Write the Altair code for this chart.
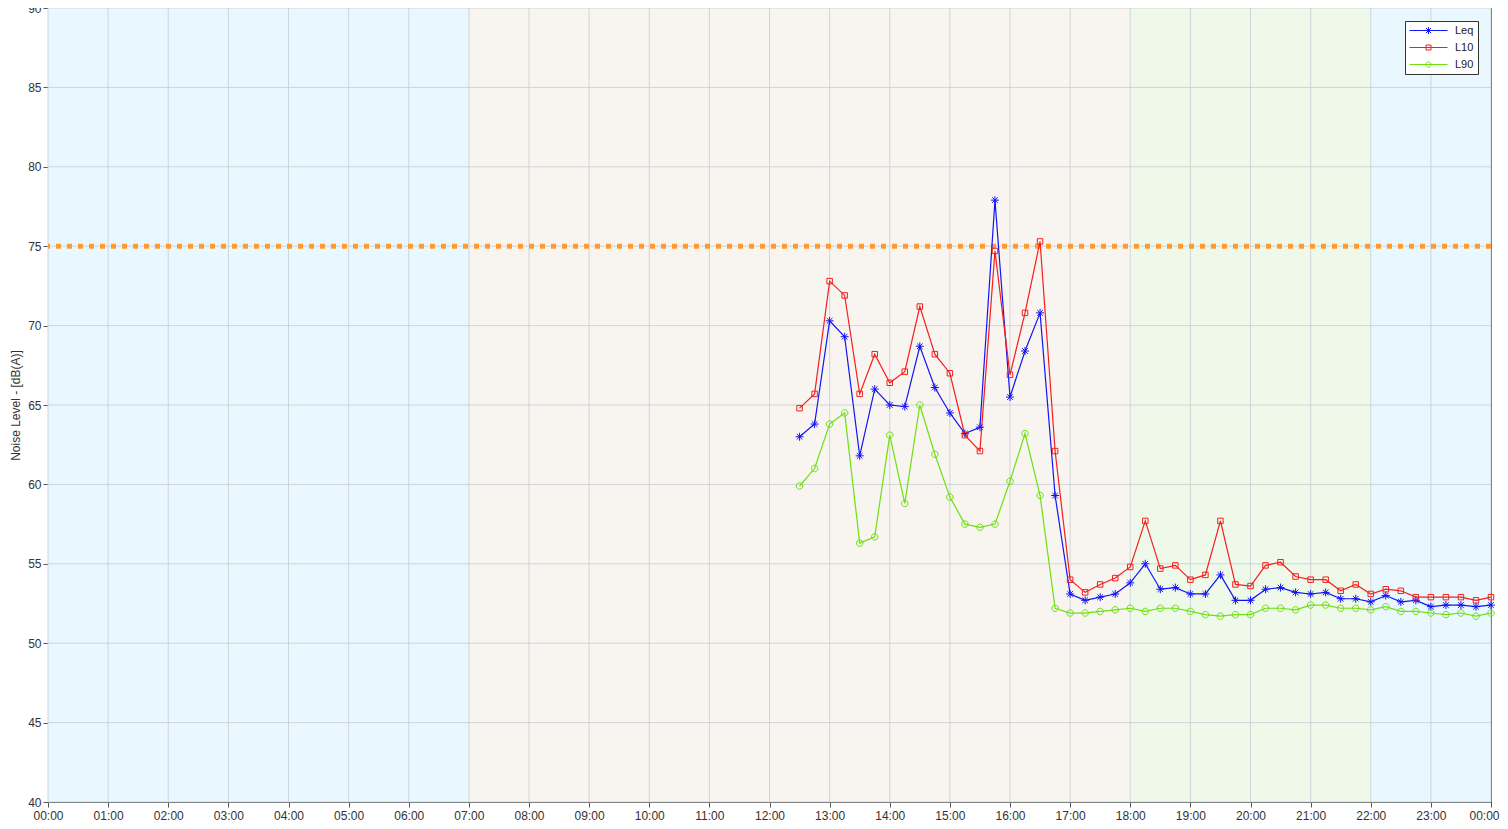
import altair as alt
import pandas as pd

times = ["12:30", "12:45", "13:00", "13:15", "13:30", "13:45", "14:00", "14:15", "14:30", "14:45",
         "15:00", "15:15", "15:30", "15:45", "16:00", "16:15", "16:30", "16:45", "17:00", "17:15",
         "17:30", "17:45", "18:00", "18:15", "18:30", "18:45", "19:00", "19:15", "19:30", "19:45",
         "20:00", "20:15", "20:30", "20:45", "21:00", "21:15", "21:30", "21:45", "22:00", "22:15",
         "22:30", "22:45", "23:00", "23:15", "23:30", "23:45", "24:00"]

leq = [63.0, 63.8, 70.3, 69.3, 61.8, 66.0, 65.0, 64.9, 68.7, 66.1, 64.5, 63.2, 63.6, 77.9, 65.5, 68.4, 70.8, 59.3,
       53.1, 52.7, 52.9, 53.1, 53.8, 55.0, 53.4, 53.5, 53.1, 53.1, 54.3, 52.7,
       52.7, 53.4, 53.5, 53.2, 53.1, 53.2, 52.8, 52.8, 52.6, 53.0, 52.6, 52.7, 52.3, 52.4, 52.4, 52.3, 52.4]
l10 = [64.8, 65.7, 72.8, 71.9, 65.7, 68.2, 66.4, 67.1, 71.2, 68.2, 67.0, 63.1, 62.1, 74.7, 66.9, 70.8, 75.3, 62.1,
       54.0, 53.2, 53.7, 54.1, 54.8, 57.7, 54.7, 54.9, 54.0, 54.3, 57.7, 53.7,
       53.6, 54.9, 55.1, 54.2, 54.0, 54.0, 53.3, 53.7, 53.1, 53.4, 53.3, 52.9, 52.9, 52.9, 52.9, 52.7, 52.9]
l90 = [59.9, 61.0, 63.8, 64.5, 56.3, 56.7, 63.1, 58.8, 65.0, 61.9, 59.2, 57.5, 57.3, 57.5, 60.2, 63.2, 59.3, 52.2,
       51.9, 51.9, 52.0, 52.1, 52.2, 52.0, 52.2, 52.2, 52.0, 51.8, 51.7, 51.8,
       51.8, 52.2, 52.2, 52.1, 52.4, 52.4, 52.2, 52.2, 52.1, 52.3, 52.0, 52.0, 51.9, 51.8, 51.9, 51.7, 51.9]

series_names = ["Leq", "L10", "L90"]
series_colors = ["#1414f5", "#f51e1e", "#6ee010"]
series_shapes = ["M-1,0L1,0M0,-1L0,1M-0.7,-0.7L0.7,0.7M-0.7,0.7L0.7,-0.7",
                 "M-1,-1L1,-1L1,1L-1,1Z",
                 "M1,0A1,1,0,1,1,-1,0A1,1,0,1,1,1,0Z"]
series_sizes = [64, 30, 42]

band_start = [0, 7, 18, 22]
band_end = [7, 18, 22, 24]
band_colors = ["#e9f8fe", "#f8f4f0", "#eef9e9", "#e9f8fe"]

limit_values = [75]
y_ticks = [40, 45, 50, 55, 60, 65, 70, 75, 80, 85, 90]
x_ticks = list(range(0, 25))


def to_hours(s):
    h, m = s.split(":")
    return int(h) + int(m) / 60.0


rows = []
for name, vals in zip(series_names, [leq, l10, l90]):
    for t, v in zip(times, vals):
        rows.append({"series": name, "hour": to_hours(t), "value": v})
df = pd.DataFrame(rows)

bands_df = pd.DataFrame({"start": band_start, "end": band_end, "color": band_colors})
xgrid_df = pd.DataFrame({"x": x_ticks})
ygrid_df = pd.DataFrame({"y": y_ticks})
limit_df = pd.DataFrame({"y": limit_values})

xscale = alt.Scale(domain=[0, 24], nice=False, zero=False)
yscale = alt.Scale(domain=[40, 90], nice=False, zero=False)

FONT = "Liberation Sans"

xaxis = alt.Axis(values=x_ticks, title=None, grid=False,
                 labelExpr="(datum.value % 24 < 10 ? '0' : '') + (datum.value % 24) + ':00'",
                 labelFontSize=12, labelColor="#333333", labelFont=FONT,
                 labelAlign=alt.ExprRef(expr="datum.value === 24 ? 'right' : 'center'"),
                 labelOffset=alt.ExprRef(expr="datum.value === 24 ? 8 : 0"),
                 domainColor="#555555", tickColor="#555555", tickSize=5, labelPadding=3,
                 labelFlush=False, labelOverlap=False, labelBound=False)
xaxis_top = alt.Axis(values=x_ticks, title=None, grid=False, labels=False, orient="top",
                     domain=False, tickColor="#555555", tickSize=4)
yaxis = alt.Axis(values=y_ticks, title="Noise Level - [dB(A)]", grid=False,
                 labelFontSize=12, labelColor="#333333", labelFont=FONT,
                 titleFontSize=12, titleFontWeight="normal", titleColor="#333333", titleFont=FONT,
                 domainColor="#555555", tickColor="#555555", tickSize=5, labelPadding=2, titlePadding=5)

bands = alt.Chart(bands_df).mark_rect().encode(
    x=alt.X("start:Q", scale=xscale, axis=xaxis),
    x2="end:Q",
    color=alt.Color("color:N", scale=None),
)

xgrid = alt.Chart(xgrid_df).mark_rule(color="#c5cdd2", strokeWidth=1, opacity=0.8).encode(
    x=alt.X("x:Q", scale=xscale, axis=xaxis_top),
)
ygrid = alt.Chart(ygrid_df).mark_rule(color="#c5cdd2", strokeWidth=1, opacity=0.8).encode(
    y=alt.Y("y:Q", scale=yscale, axis=yaxis),
)

limit = alt.Chart(limit_df).mark_rule(color="#ff9a30", strokeWidth=5, strokeDash=[5, 6]).encode(
    y=alt.Y("y:Q", scale=yscale),
)

legend_shape = (
    "datum.value === 'Leq' ? "
    "'M-1,0L6.6,0M2.1,0L3.5,0M2.8,-0.7L2.8,0.7M2.3,-0.5L3.3,0.5M2.3,0.5L3.3,-0.5' : "
    "datum.value === 'L10' ? "
    "'M-1,0L6.6,0M2.3,-0.5L3.3,-0.5L3.3,0.5L2.3,0.5Z' : "
    "'M-1,0L6.6,0M3.32,0A0.52,0.52,0,1,1,2.28,0A0.52,0.52,0,1,1,3.32,0Z'"
)

lines = alt.Chart(df).mark_line(strokeWidth=1.2).encode(
    x=alt.X("hour:Q", scale=xscale, axis=None),
    y=alt.Y("value:Q", scale=yscale),
    color=alt.Color("series:N", scale=alt.Scale(domain=series_names, range=series_colors),
                    sort=series_names,
                    legend=alt.Legend(
                        title=None, orient="top-right", offset=13, padding=4,
                        strokeColor="#333333", fillColor="#ffffff",
                        labelFontSize=11, labelFont=FONT, labelColor="#222222",
                        symbolSize=100, symbolStrokeWidth=1, labelOffset=35, rowPadding=5,
                        symbolFillColor="transparent",
                        symbolType=alt.ExprRef(expr=legend_shape),
                    )),
    detail="series:N",
)

point_layers = []
for name, color, shape, size in zip(series_names, series_colors, series_shapes, series_sizes):
    point_layers.append(
        alt.Chart(df).transform_filter(alt.datum.series == name)
        .mark_point(filled=False, strokeWidth=1, opacity=1, shape=shape, size=size, color=color)
        .encode(
            x=alt.X("hour:Q", scale=xscale, axis=None),
            y=alt.Y("value:Q", scale=yscale),
        )
    )

chart = alt.layer(bands, xgrid, ygrid, limit, lines, *point_layers).resolve_axis(
    x="independent"
).properties(
    width=1443, height=794,
    autosize=alt.AutoSizeParams(type="none"),
    padding={"left": 40, "top": 0, "right": 9, "bottom": 19},
).configure_view(stroke="#555555", strokeWidth=1)

chart.save("out.html", embed_options={"renderer": "svg", "actions": False})
